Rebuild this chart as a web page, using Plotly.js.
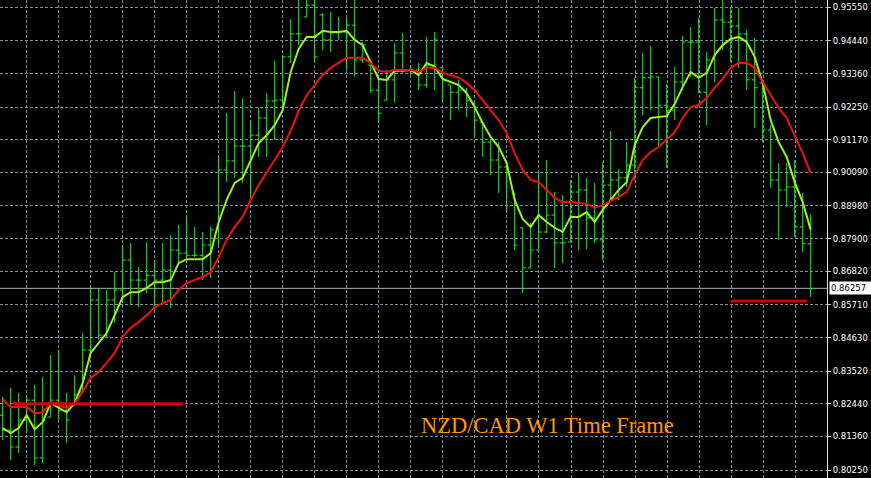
<!DOCTYPE html>
<html><head><meta charset="utf-8">
<script src="https://cdn.plot.ly/plotly-3.0.1.min.js"></script>
<style>html,body{margin:0;padding:0;background:#000;}#chart{width:871px;height:478px;}</style>
</head><body><div id="chart"></div>
<script>
// Weekly NZD/CAD bars (oldest -> newest)
const barOpen = [
.8206,.8157,.8101,.8190,.8256,.8065,.8200,.8256,.8223,.8239,
.8283,.8422,.8587,.8471,.8587,.8620,.8719,.8653,.8653,.8669,
.8653,.8686,.8752,.8742,.8735,.8735,.8769,.8819,.9017,.9047,
.9096,.9096,.9132,.9189,.9245,.9248,.9391,.9467,.9523,.9562,
.9530,.9447,.9470,.9473,.9496,.9381,.9364,.9281,.9248,.9315,
.9404,.9348,.9348,.9298,.9364,.9355,.9298,.9274,.9281,.9238,
.9175,.9109,.9050,.9027,.8941,.8826,.8693,.8752,.8812,.8868,
.8776,.8779,.8944,.8951,.8859,.8786,.8967,.8984,.8991,.9033,
.9289,.9322,.9325,.9231,.9215,.9308,.9440,.9440,.9274,.9381,
.9513,.9506,.9493,.9467,.9315,.9305,.9149,.8984,.8951,.8961,
.8829,.8773];
const barHigh = [
.8267,.8297,.8280,.8267,.8306,.8333,.8405,.8422,.8280,.8339,
.8478,.8630,.8627,.8620,.8679,.8769,.8776,.8696,.8779,.8719,
.8776,.8802,.8835,.8862,.8829,.8812,.8829,.9063,.9205,.9278,
.9255,.9182,.9222,.9271,.9378,.9397,.9516,.9585,.9600,.9590,
.9536,.9539,.9523,.9520,.9585,.9440,.9364,.9322,.9348,.9437,
.9470,.9364,.9371,.9457,.9473,.9355,.9298,.9315,.9289,.9238,
.9175,.9116,.9109,.9040,.8941,.8826,.8842,.9007,.9050,.8944,
.8934,.8984,.9007,.8991,.8974,.9043,.9146,.9020,.9109,.9322,
.9404,.9427,.9325,.9302,.9358,.9460,.9490,.9520,.9407,.9553,
.9585,.9556,.9553,.9480,.9454,.9305,.9165,.9040,.9040,.9050,
.8941,.8869];
const barLow = [
.8124,.8058,.8081,.8147,.8041,.8048,.8200,.8190,.8114,.8239,
.8283,.8412,.8455,.8465,.8511,.8587,.8570,.8564,.8610,.8554,
.8577,.8561,.8709,.8729,.8729,.8653,.8660,.8769,.8977,.8991,
.8974,.8928,.9060,.9060,.9116,.9215,.9371,.9430,.9523,.9374,
.9414,.9407,.9447,.9348,.9325,.9371,.9271,.9172,.9248,.9241,
.9338,.9331,.9281,.9289,.9281,.9241,.9182,.9215,.9192,.9126,
.9060,.9000,.8941,.8878,.8752,.8610,.8693,.8752,.8809,.8693,
.8709,.8779,.8752,.8755,.8776,.8719,.8918,.8918,.8961,.8984,
.9198,.9215,.9093,.9024,.9182,.9281,.9325,.9271,.9165,.9308,
.9414,.9374,.9355,.9281,.9156,.9109,.8958,.8786,.8895,.8796,
.8745,.8597];
const barClose = [
.8157,.8101,.8190,.8256,.8065,.8190,.8256,.8223,.8190,.8273,
.8422,.8587,.8471,.8587,.8620,.8719,.8653,.8653,.8669,.8653,
.8686,.8752,.8742,.8735,.8735,.8769,.8819,.9017,.9047,.9096,
.9096,.9132,.9189,.9245,.9248,.9391,.9467,.9467,.9562,.9391,
.9447,.9470,.9473,.9496,.9381,.9430,.9281,.9205,.9315,.9404,
.9348,.9348,.9298,.9364,.9447,.9315,.9274,.9281,.9248,.9182,
.9109,.9050,.9027,.9007,.8769,.8693,.8752,.8812,.8868,.8776,
.8776,.8944,.8951,.8859,.8786,.8967,.8984,.8991,.9033,.9289,
.9322,.9325,.9231,.9215,.9308,.9440,.9440,.9274,.9381,.9513,
.9506,.9493,.9467,.9315,.9289,.9149,.8984,.8951,.8961,.8829,
.8773,.86257];
// Fast moving average (yellow-green)
const fastMA = [
.8164,.8147,.8164,.8206,.8160,.8183,.8246,.8230,.8216,.8246,
.8313,.8412,.8445,.8478,.8537,.8597,.8613,.8613,.8627,.8646,
.8646,.8653,.8709,.8722,.8722,.8722,.8742,.8845,.8918,.8974,
.8991,.9050,.9106,.9132,.9165,.9215,.9341,.9417,.9457,.9457,
.9477,.9473,.9473,.9477,.9447,.9430,.9374,.9318,.9315,.9345,
.9345,.9348,.9331,.9371,.9358,.9318,.9308,.9298,.9271,.9225,
.9172,.9126,.9093,.9040,.8918,.8855,.8829,.8868,.8845,.8826,
.8812,.8862,.8862,.8878,.8845,.8885,.8918,.8951,.8977,.9099,
.9159,.9189,.9192,.9195,.9235,.9292,.9341,.9322,.9338,.9397,
.9430,.9450,.9457,.9440,.9391,.9305,.9182,.9109,.9060,.8977,
.8911,.8819];
// Slow moving average (red)
const slowMA = [
.8260,.8233,.8233,.8233,.8213,.8216,.8246,.8239,.8230,.8246,
.8283,.8330,.8349,.8379,.8412,.8465,.8495,.8514,.8537,.8564,
.8577,.8587,.8620,.8643,.8653,.8663,.8679,.8729,.8786,.8829,
.8862,.8918,.8967,.9007,.9050,.9093,.9146,.9212,.9264,.9298,
.9331,.9355,.9371,.9388,.9388,.9388,.9371,.9345,.9341,.9348,
.9348,.9348,.9341,.9355,.9355,.9338,.9331,.9322,.9305,.9281,
.9248,.9215,.9182,.9139,.9073,.9017,.8984,.8977,.8951,.8925,
.8911,.8911,.8908,.8905,.8892,.8900,.8915,.8928,.8944,.9000,
.9050,.9076,.9093,.9116,.9142,.9189,.9225,.9232,.9255,.9289,
.9318,.9355,.9371,.9371,.9355,.9308,.9264,.9222,.9189,.9132,
.9073,.9007];
// Horizontal support levels with their start / end bars
const supportLevels = [0.8244, 0.8584];
const supportFrom = [1.2, 91.0];
const supportTo = [22.5, 100.6];
const currentPrice = 0.86257;
const priceTicks = [0.95550,0.94440,0.93360,0.92250,0.91170,0.90090,0.88980,0.87900,0.86820,0.85710,0.84630,0.83520,0.82440,0.81360,0.80250];
const priceTickText = priceTicks.map(v => v.toFixed(5));
const chartTitle = 'NZD/CAD W1 Time Frame';

const barIndex = barOpen.map((_, i) => i);

const traces = [
  {type:'ohlc', x:barIndex, open:barOpen, high:barHigh, low:barLow, close:barClose,
   increasing:{line:{color:'#00ff00', width:1}}, decreasing:{line:{color:'#00ff00', width:1}},
   tickwidth:0.38, hoverinfo:'skip', showlegend:false},
  {type:'scatter', mode:'lines', x:barIndex, y:fastMA, line:{color:'#9cf222', width:2}, hoverinfo:'skip'},
  {type:'scatter', mode:'lines', x:barIndex, y:slowMA, line:{color:'#f01212', width:2}, hoverinfo:'skip'}
];
supportLevels.forEach((lv, k) => {
  traces.push({type:'scatter', mode:'lines', x:[supportFrom[k], supportTo[k]], y:[lv, lv],
    line:{color:'#cc0000', width:3}, hoverinfo:'skip'});
});

const grid = {gridcolor:'#7f8c9c', griddash:'3px,2px', gridwidth:1};
const labelFont = {family:'DejaVu Sans, Verdana, sans-serif', size:8.5, color:'#ffffff'};
const layout = {
  width:871, height:478,
  margin:{l:0, r:44, t:0, b:0, pad:0},
  paper_bgcolor:'#000', plot_bgcolor:'#000',
  showlegend:false,
  xaxis:Object.assign({range:[-0.333, 103.04], tick0:3.04, dtick:4, showgrid:true,
    showticklabels:false, ticks:'', zeroline:false, showline:false,
    rangeslider:{visible:false}, fixedrange:true}, grid),
  yaxis:Object.assign({side:'right', range:[0.79986, 0.95791], tickmode:'array',
    tickvals:priceTicks, ticktext:priceTickText, showgrid:true, ticks:'outside', ticklen:3,
    tickcolor:'#d0d0d0', tickfont:labelFont,
    showline:true, linecolor:'#e0e0e0', linewidth:1, zeroline:false, fixedrange:true}, grid),
  shapes:[{type:'line', xref:'paper', x0:0, x1:1, yref:'y', y0:currentPrice, y1:currentPrice,
    line:{color:'#a9aebb', width:1}, layer:'below'}],
  annotations:[
    {xref:'paper', x:1, xanchor:'left', xshift:2, yref:'y', y:currentPrice, yanchor:'middle',
     text:currentPrice.toFixed(5), showarrow:false, bgcolor:'#ffffff', borderpad:1, width:40, align:'left',
     font:Object.assign({}, labelFont, {color:'#000000'})},
    {xref:'paper', yref:'paper', x:0.662, y:0.109, xanchor:'center', yanchor:'middle',
     text:chartTitle, showarrow:false,
     font:{family:'Liberation Serif, Times New Roman, serif', size:22.5, color:'#ff9900'}}
  ]
};
Plotly.newPlot('chart', traces, layout, {displayModeBar:false, staticPlot:true});
</script></body></html>
